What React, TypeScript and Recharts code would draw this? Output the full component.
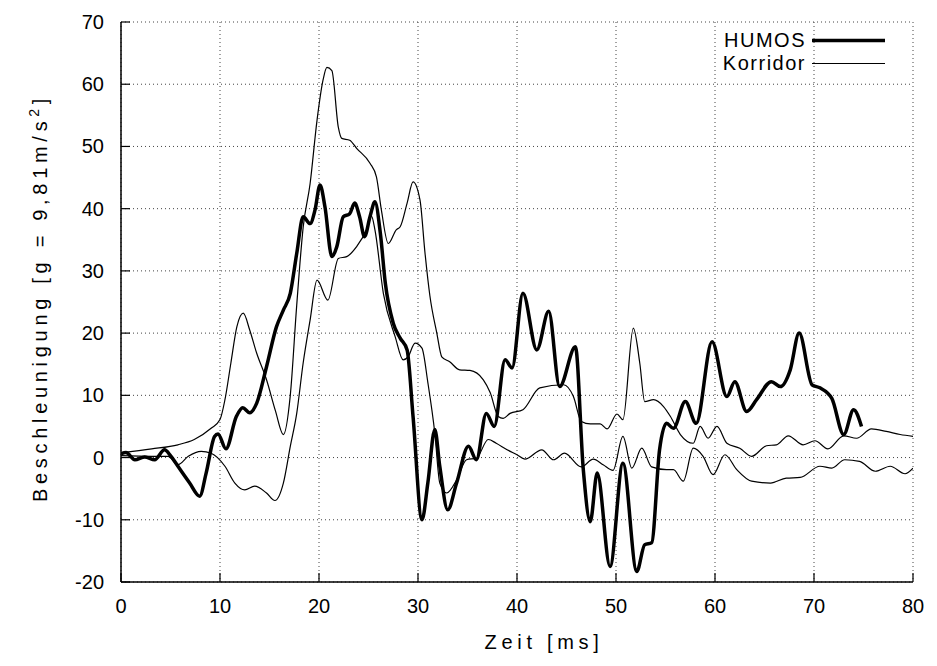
import React from 'react';
import { LineChart, Line, XAxis, YAxis, CartesianGrid, Legend, Label } from 'recharts';

const FONT = '"Liberation Sans", Arial, Helvetica, sans-serif';
const FS = 20;

const xTicks = [0, 10, 20, 30, 40, 50, 60, 70, 80];
const yTicks = [-20, -10, 0, 10, 20, 30, 40, 50, 60, 70];

const humos: [number, number][] = [
  [0, 0.6], [0.5, 0.8], [1.4, -0.35], [2.4, 0.1], [3.4, -0.35], [4.4, 1.25], [5.0, 0.3], [5.75, -1.4],
  [6.9, -4], [7.95, -6.2], [8.6, -2.5], [9.45, 3.4], [9.8, 3.8], [10.6, 1.4], [11.65, 6.6], [12.3, 8],
  [13, 7.2], [13.7, 8.7], [14.7, 14.6], [15.7, 21], [16.4, 23.7], [17.1, 26.4], [17.75, 32.8], [18.4, 38.7],
  [19.1, 37.6], [19.6, 39.8], [20.1, 43.8], [20.6, 40.3], [21.3, 32.3], [21.8, 33.9], [22.45, 38.7], [23.1, 39.2],
  [23.6, 40.9], [24.1, 38.7], [24.6, 35.5], [25.15, 38.7], [25.65, 41.1], [26.2, 36], [26.7, 28], [27.5, 21.6],
  [28.2, 19.2], [28.9, 17.3], [29.5, 6.6], [30.4, -10], [31.0, -4], [31.7, 4.5], [32.2, -1.4], [33.0, -8.4],
  [33.9, -4.1], [35.1, 1.8], [35.9, -0.35], [36.9, 7.1], [37.7, 5], [38.8, 15.7], [39.5, 14.4], [40.6, 26.4],
  [42.0, 17.3], [43.2, 23.5], [44.3, 11.4], [45.9, 17.8], [46.7, -2], [47.4, -10.3], [48.1, -2.5], [49.4, -17.5],
  [50.7, -0.9], [52.1, -18.3], [52.9, -14], [53.6, -13.7], [54.4, 1.25], [55.1, 5.5], [55.8, 4.7], [57.0, 9],
  [58.1, 5.5], [59.7, 18.6], [61.2, 9.8], [62.0, 12.2], [63.2, 7.4], [64.2, 9.3], [65.7, 12.2], [66.6, 11.4],
  [67.6, 14.1], [68.5, 20], [69.8, 11.7], [70.6, 11.2], [71.8, 9.5], [73.0, 3.7], [74.0, 7.7], [74.8, 5],
];

const korridorOben: [number, number][] = [
  [0, 0.8], [3.1, 1.4], [5.75, 2.05], [7.4, 2.9], [9.1, 4.7], [10.0, 6.1], [10.5, 9.3], [11.1, 15.2],
  [11.7, 21], [12.35, 23.2], [13.0, 20.5], [13.7, 16.8], [14.7, 12.5], [15.6, 7.5], [16.4, 3.7], [17.1, 10],
  [17.75, 24.5], [18.4, 37], [19.1, 44], [19.8, 54.2], [20.4, 60.6], [20.8, 62.7], [21.3, 62.2], [21.95, 53.1],
  [22.3, 51.3], [23.1, 51], [23.8, 49.7], [25.15, 47.3], [25.8, 45.1], [26.3, 39.8], [27.0, 34.4], [27.8, 36.6],
  [28.2, 37.1], [28.9, 40.9], [29.5, 44.3], [30.2, 41.4], [30.7, 33], [31.2, 26], [31.9, 20], [32.4, 16.2],
  [33.2, 15.4], [34.2, 14.1], [35.25, 14], [36.6, 12.5], [37.3, 10.4], [38.1, 6.6], [38.6, 6.3], [39.3, 7.1],
  [40.6, 7.7], [42.3, 11.2], [44.7, 11.7], [45.7, 9.8], [46.5, 5.8], [47.4, 5.4], [48.4, 5.4], [49.1, 4.6],
  [50.1, 7.0], [50.7, 6.1], [51.75, 20.8], [52.4, 15.2], [52.9, 9], [53.8, 9.3], [54.8, 8.2], [55.5, 6.6],
  [56.5, 3.7], [57.8, 2.3], [58.5, 5], [59.3, 3.1], [60.2, 5], [61.2, 2.3], [62.5, 1.5], [63.7, 0.2],
  [65.2, 1.9], [66.2, 2.05], [67.4, 3.5], [68.9, 2.05], [70.1, 2.7], [71.4, 1.4], [73.0, 3.5], [74.3, 3.1],
  [75.8, 4.6], [77.3, 4.2], [78.7, 3.7], [80, 3.4],
];

const korridorUnten: [number, number][] = [
  [0, 0.3], [3.1, 0.2], [4.75, 0.2], [5.75, -1.15], [6.8, 0.2], [8.1, 1], [9.1, 0.7], [10.5, -1.4],
  [11.5, -4.1], [12.5, -5.2], [13.5, -4.6], [14.7, -5.7], [15.55, -6.9], [16.4, -4.1], [17.1, 1.8], [17.75, 7.1],
  [18.4, 15.2], [19.1, 22.1], [19.8, 28.5], [20.9, 25.3], [21.95, 32], [22.8, 32.3], [23.8, 33.9], [24.8, 36.6],
  [25.3, 38.8], [25.65, 36.6], [26.5, 26.4], [27.7, 19.4], [28.5, 15.7], [29.0, 16.2], [29.7, 18.4], [30.4, 17.6],
  [31.0, 12], [31.7, 3.9], [32.2, -4.1], [32.9, -5.7], [33.9, -3.6], [34.9, -0.35], [35.9, -0.1], [37.1, 2.9],
  [37.9, 2.3], [39.0, 1.25], [40.0, 0.45], [40.8, -0.25], [42.5, 1.25], [43.7, -0.35], [44.8, 0.7], [46.5, -1.5],
  [47.7, -0.25], [48.7, -1.15], [49.7, -2.05], [50.7, 3.4], [51.6, -1.7], [52.6, 1.5], [53.6, -1.5], [55.1, -1.95],
  [55.8, -1.95], [56.8, -3.8], [57.8, 1.5], [58.8, 0.2], [59.8, -2.75], [61.0, 0.45], [62.2, -1.95], [63.7, -3.8],
  [65.6, -4.1], [67.2, -3.3], [68.6, -3.2], [70.6, -1.4], [71.8, -1.7], [73.1, -0.35], [74.6, -0.6], [76.2, -2.2],
  [77.7, -1.4], [79.2, -2.6], [80, -1.7],
];

const toPts = (arr: [number, number][]) => arr.map(([x, y]) => ({ x, y }));
const humosData = toPts(humos);
const obenData = toPts(korridorOben);
const untenData = toPts(korridorUnten);

const TICK_LEN = 9;
const GAP_X = 17;
const GAP_Y = 17;
const LABEL_LS = 4.7;

const BottomTick = (props: any) => {
  const { x, y, payload } = props;
  const axisY = y - GAP_X;
  return (
    <g>
      <line x1={x} y1={axisY} x2={x} y2={axisY - TICK_LEN} stroke="#000" strokeWidth={1.2} />
      <text x={x} y={y} dy="0.71em" textAnchor="middle" fontFamily={FONT} fontSize={FS} fill="#000">
        {payload.value}
      </text>
    </g>
  );
};

const TopTick = (props: any) => {
  const { x, y } = props;
  return <line x1={x} y1={y} x2={x} y2={y + TICK_LEN} stroke="#000" strokeWidth={1.2} />;
};

const LeftTick = (props: any) => {
  const { x, y, payload } = props;
  const axisX = x + GAP_Y;
  return (
    <g>
      <line x1={axisX} y1={y} x2={axisX + TICK_LEN} y2={y} stroke="#000" strokeWidth={1.2} />
      <text x={x} y={y} dy="0.35em" textAnchor="end" fontFamily={FONT} fontSize={FS} fill="#000">
        {payload.value}
      </text>
    </g>
  );
};

const RightTick = (props: any) => {
  const { x, y } = props;
  return <line x1={x} y1={y} x2={x - TICK_LEN} y2={y} stroke="#000" strokeWidth={1.2} />;
};

const YLabel = (props: any) => {
  const cx = 40;
  const cy = 298;
  return (
    <text
      x={cx}
      y={cy}
      transform={`rotate(-90, ${cx}, ${cy})`}
      textAnchor="middle"
      dy="0.35em"
      fontFamily={FONT}
      fontSize={FS}
      letterSpacing={LABEL_LS}
      fill="#000"
    >
      <tspan>Beschleunigung  [g = 9,81m/s</tspan>
      <tspan fontSize={14} dy="-8">2</tspan>
      <tspan dy="8">]</tspan>
    </text>
  );
};

const XLabel = (props: any) => {
  const vb = props.viewBox || {};
  const cx = (vb.x || 0) + (vb.width || 0) / 2 + 27;
  return (
    <text x={cx} y={649} textAnchor="middle" fontFamily={FONT} fontSize={FS} letterSpacing={LABEL_LS} fill="#000">
      Zeit [ms]
    </text>
  );
};

const LegendContent = (props: any) => {
  const items = (props.payload || []).filter((e: any) => e.value === 'HUMOS' || e.value === 'Korridor');
  return (
    <div style={{ fontFamily: FONT, fontSize: FS, color: '#000', letterSpacing: 1.5 }}>
      {items.map((e: any) => (
        <div
          key={e.value}
          style={{ display: 'flex', justifyContent: 'flex-end', alignItems: 'center', height: 23, lineHeight: '23px' }}
        >
          <span>{e.value}</span>
          <svg width={73} height={23} style={{ marginLeft: 6 }}>
            <line x1={0} y1={11.5} x2={73} y2={11.5} stroke="#000" strokeWidth={e.payload?.strokeWidth ?? 1} />
          </svg>
        </div>
      ))}
    </div>
  );
};

export default function App() {
  return (
    <div style={{ position: 'absolute', left: 0, top: 0, background: '#fff' }}>
      <LineChart width={937} height={666} margin={{ top: 22, right: 24, bottom: 0, left: 0 }}>
        <CartesianGrid stroke="#444" strokeDasharray="1 3" strokeWidth={1} />
        <XAxis
          type="number"
          dataKey="x"
          domain={[0, 80]}
          ticks={xTicks}
          allowDataOverflow
          height={84}
          tickSize={0}
          tickMargin={GAP_X}
          tickLine={false}
          axisLine={{ stroke: '#000', strokeWidth: 1.5 }}
          tick={<BottomTick />}
          interval={0}
        >
          <Label content={<XLabel />} />
        </XAxis>
        <XAxis
          xAxisId="top"
          orientation="top"
          type="number"
          dataKey="x"
          domain={[0, 80]}
          ticks={xTicks}
          allowDataOverflow
          height={0}
          tickSize={0}
          tickMargin={0}
          tickLine={false}
          axisLine={{ stroke: '#000', strokeWidth: 1.5 }}
          tick={<TopTick />}
          interval={0}
        />
        <YAxis
          type="number"
          dataKey="y"
          domain={[-20, 70]}
          ticks={yTicks}
          allowDataOverflow
          width={121}
          tickSize={0}
          tickMargin={GAP_Y}
          tickLine={false}
          axisLine={{ stroke: '#000', strokeWidth: 1.5 }}
          tick={<LeftTick />}
          interval={0}
        >
          <Label content={<YLabel />} />
        </YAxis>
        <YAxis
          yAxisId="right"
          orientation="right"
          type="number"
          dataKey="y"
          domain={[-20, 70]}
          ticks={yTicks}
          allowDataOverflow
          width={0}
          tickSize={0}
          tickMargin={0}
          tickLine={false}
          axisLine={{ stroke: '#000', strokeWidth: 1.5 }}
          tick={<RightTick />}
          interval={0}
        />
        <Legend
          layout="vertical"
          align="center"
          verticalAlign="middle"
          content={<LegendContent />}
          wrapperStyle={{ left: 600, top: 29, width: 285, height: 46, right: 'auto', bottom: 'auto' }}
        />
        <Line
          data={humosData}
          dataKey="y"
          name="HUMOS"
          type="monotone"
          stroke="#000"
          strokeWidth={3.5}
          dot={false}
          isAnimationActive={false}
        />
        <Line
          data={obenData}
          dataKey="y"
          name="Korridor"
          type="monotone"
          stroke="#000"
          strokeWidth={1.2}
          dot={false}
          isAnimationActive={false}
        />
        <Line
          data={untenData}
          dataKey="y"
          name="Korridor unten"
          legendType="none"
          type="monotone"
          stroke="#000"
          strokeWidth={1.2}
          dot={false}
          isAnimationActive={false}
        />
      </LineChart>
    </div>
  );
}
